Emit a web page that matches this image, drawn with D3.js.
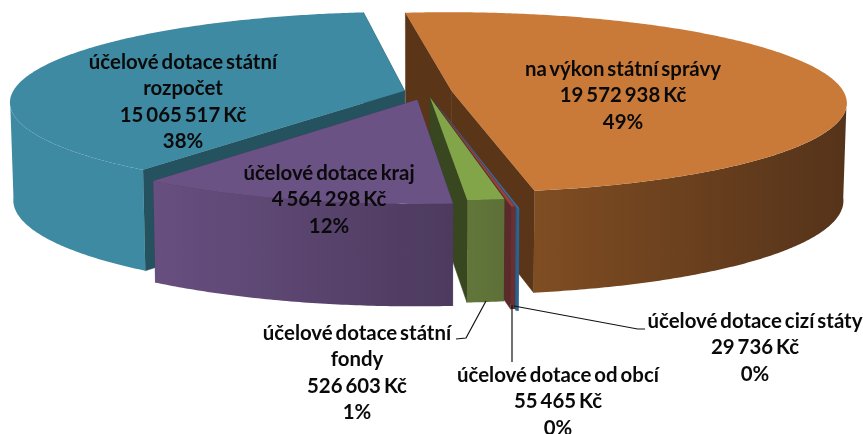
<!DOCTYPE html>
<html>
<head>
<meta charset="utf-8">
<script src="https://cdn.jsdelivr.net/npm/d3@7"></script>
<style>
  html, body { margin: 0; padding: 0; background: #fff; }
  text { font-family: Lato, "Open Sans", sans-serif; font-weight: 700; font-size: 20.4px; word-spacing: -2px; fill: #0a0a0a; }
  svg { filter: blur(0.35px); }
</style>
</head>
<body>
<div id="chart"></div>
<script>
// slices in clockwise order, starting from the orange one
const categories = ["na výkon státní správy", "účelové dotace cizí státy", "účelové dotace od obcí",
  "účelové dotace státní fondy", "účelové dotace kraj", "účelové dotace státní rozpočet"];
const values = [19572938, 29736, 55465, 526603, 4564298, 15065517];
const percentLabels = ["49%", "0%", "0%", "1%", "12%", "38%"];
const nameLines = [
  ["na výkon státní správy"],
  ["účelové dotace cizí státy"],
  ["účelové dotace od obcí"],
  ["účelové dotace státní", "fondy"],
  ["účelové dotace kraj"],
  ["účelové dotace státní", "rozpočet"]
];

// look of each slice, same order as above
const topColors = ["#c97a38", "#3a6fa0", "#94403d", "#82a54a", "#6a5285", "#3f8aa3"];
const wallColors = ["#5a3518", "#2a5a85", "#5c2a2a", "#394720", "#4d3a5e", "#24525f"];
const arcColors = [["#7f4d22", "#55331a"], ["#2e6390", "#2e6390"], ["#6a3030", "#6a3030"],
  ["#62763a", "#5e7038"], ["#674f80", "#4d3a5e"], ["#3d8aa2", "#3d8aa2"]];
const explode = [0.064, 0.14, 0.125, 0.06, 0.09, 0.059];
const labelX = [623, 755, 558, 357, 329, 183];
const labelY = [69, 321, 375, 333, 173, 62];
// back to front, teal has to go under the purple slice
const drawOrder = [0, 1, 2, 3, 5, 4];

const width = 863, height = 434;
const cx = 427, cy = 92;
const radiusX = 392, radiusY = 89, persp = 0.125;
const rotation = -7.2 * Math.PI / 180;

const svg = d3.select("#chart").append("svg")
  .attr("width", width)
  .attr("height", height);
const defs = svg.append("defs");

const pie = d3.pie().sort(null)
  .startAngle(rotation)
  .endAngle(rotation + 2 * Math.PI);
const arcs = pie(values);

// unit circle + explosion -> screen, with a bit of perspective towards the viewer
function toScreen(X, Y, bottom) {
  const s = 1 / (1 - persp * Y);
  let x = cx + radiusX * X * s;
  let y = cy + radiusY * Y * s;
  if (bottom) {
    x = cx + (x - cx) * 0.992;
    y = y + 97 + 5 * Y;
  }
  return [x, y];
}
function project(d, i, angle, r, bottom) {
  const mid = (d.startAngle + d.endAngle) / 2;
  const X = r * Math.sin(angle) + explode[i] * Math.sin(mid);
  const Y = -r * Math.cos(angle) - explode[i] * Math.cos(mid);
  return toScreen(X, Y, bottom);
}

const line = d3.line();
function angleSteps(d) {
  const n = Math.max(2, Math.ceil((d.endAngle - d.startAngle) / 0.01));
  return d3.range(n + 1).map(k => d.startAngle + (d.endAngle - d.startAngle) * k / n);
}

drawOrder.forEach(i => {
  const d = arcs[i];
  const g = svg.append("g").attr("class", "slice");
  const steps = angleSteps(d);
  const top = steps.map(a => project(d, i, a, 1, false));
  const bot = steps.map(a => project(d, i, a, 1, true));
  const c = project(d, i, 0, 0, false);
  const cb = project(d, i, 0, 0, true);

  // two straight cut walls, thin stroke hides the seam at the centre
  [0, steps.length - 1].forEach(k => {
    g.append("path")
      .attr("d", line([c, top[k], bot[k], cb]) + "Z")
      .attr("fill", wallColors[i])
      .attr("stroke", wallColors[i])
      .attr("stroke-width", 0.5);
  });

  // rounded outer wall, only the part facing the viewer, shaded left to right
  const front = steps.filter(a => Math.cos(a) < -0.1);
  const frontTop = front.map(a => project(d, i, a, 1, false));
  const frontBot = front.map(a => project(d, i, a, 1, true));
  const xs = d3.extent(frontTop, p => p[0]);
  const gradId = "arc-grad-" + i;
  const grad = defs.append("linearGradient")
    .attr("id", gradId)
    .attr("gradientUnits", "userSpaceOnUse")
    .attr("x1", xs[0]).attr("y1", 0)
    .attr("x2", xs[1]).attr("y2", 0);
  grad.append("stop").attr("offset", 0).attr("stop-color", arcColors[i][0]);
  grad.append("stop").attr("offset", 1).attr("stop-color", arcColors[i][1]);
  g.append("path")
    .attr("d", line(frontTop.concat(frontBot.slice().reverse())) + "Z")
    .attr("fill", `url(#${gradId})`);

  // top face
  g.append("path")
    .attr("d", line([c].concat(top)) + "Z")
    .attr("fill", topColors[i]);
});

// leader lines for the small slices
const leaders = [
  [[514, 306], [637.6, 329], [645, 329]],
  [[512, 305], [512, 362]],
  [[486, 301], [466, 338], [456, 339]]
];
svg.selectAll("path.leader")
  .data(leaders)
  .enter()
  .append("path")
  .attr("class", "leader")
  .attr("d", d => line(d))
  .attr("fill", "none")
  .attr("stroke", "#111")
  .attr("stroke-width", 1.2);

// labels
const fmt = d3.formatLocale({ thousands: " ", grouping: [3], decimal: ",", currency: ["", " Kč"] }).format(",d");
const lineStep = 26.3;
const labels = svg.selectAll("text.label")
  .data(categories)
  .enter()
  .append("text")
  .attr("class", "label")
  .attr("text-anchor", "middle");

labels.each(function(name, i) {
  const rows = nameLines[i].concat([fmt(values[i]) + " Kč", percentLabels[i]]);
  d3.select(this).selectAll("tspan")
    .data(rows)
    .enter()
    .append("tspan")
    .attr("x", labelX[i])
    .attr("y", (r, k) => labelY[i] + k * lineStep)
    .attr("dy", "0.35em")
    .text(r => r);
});
</script>
</body>
</html>
